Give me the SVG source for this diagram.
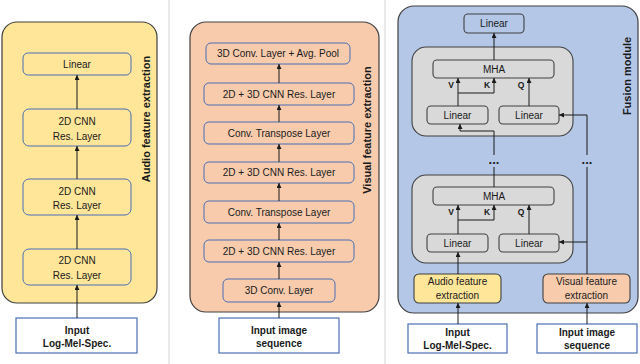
<svg xmlns="http://www.w3.org/2000/svg" width="640" height="364" viewBox="0 0 640 364">
<defs>
<marker id="ah" viewBox="0 0 6 6" refX="6" refY="3" markerWidth="5" markerHeight="5" markerUnits="userSpaceOnUse" orient="auto">
<path d="M0,0 L6,3 L0,6 z" fill="#1a1a1a"/>
</marker>
</defs>
<style>
text{font-family:"Liberation Sans",Arial,sans-serif;fill:#1a1a1a;text-anchor:middle}
.t{font-size:10px}
.b{font-size:10px;font-weight:bold}
.lbl{font-size:11px;font-weight:bold}
.vkq{font-size:8.5px;font-weight:bold}
.dots{font-size:13px;font-weight:bold}
.panel{stroke:#404040;stroke-width:1.2}
.inner{stroke:#4a6fb5;stroke-width:1}
.dark{stroke:#404040;stroke-width:1.1}
.inp{fill:#fff;stroke:#4a6fb5;stroke-width:1.2}
.yel{fill:#FFE699}
.org{fill:#F8CBAD}
.blu{fill:#B4C7E7}
.gry{fill:#D9D9D9}
.sep{stroke:#e2e2e2;stroke-width:1.5}
.c{fill:none;stroke:#1a1a1a;stroke-width:1}
.ca{fill:none;stroke:#1a1a1a;stroke-width:1;marker-end:url(#ah)}
</style>
<rect width="640" height="364" fill="#fff"/>
<line class="sep" x1="169" y1="0" x2="169" y2="364"/>
<line class="sep" x1="385" y1="0" x2="385" y2="364"/>

<!-- Panel 1: Audio -->
<g id="audio-panel">
<rect class="panel yel" x="2" y="22" width="155" height="281" rx="15"/>
<text class="lbl" transform="translate(149.5,119) rotate(-90)">Audio feature extraction</text>
</g>
<g id="a-linear"><rect class="inner yel" x="23" y="53" width="108" height="22" rx="5"/><text class="t" x="77" y="67.5">Linear</text></g>
<g id="a-res3"><rect class="inner yel" x="23" y="109" width="108" height="37" rx="6"/><text class="t" x="77" y="124.5">2D CNN</text><text class="t" x="77" y="139.5">Res. Layer</text></g>
<g id="a-res2"><rect class="inner yel" x="23" y="179" width="108" height="36" rx="6"/><text class="t" x="77" y="194.5">2D CNN</text><text class="t" x="77" y="208.5">Res. Layer</text></g>
<g id="a-res1"><rect class="inner yel" x="23" y="249" width="108" height="36" rx="6"/><text class="t" x="77" y="263.5">2D CNN</text><text class="t" x="77" y="278.5">Res. Layer</text></g>
<g id="a-input"><rect class="inp" x="16" y="318" width="121" height="35"/><text class="b" x="77" y="333.5">Input</text><text class="b" x="77" y="346.5">Log-Mel-Spec.</text></g>

<!-- Panel 2: Visual -->
<g id="visual-panel">
<rect class="panel org" x="190" y="22" width="189" height="290" rx="16"/>
<text class="lbl" transform="translate(370.5,130) rotate(-90)">Visual feature extraction</text>
</g>
<g id="v-pool"><rect class="inner org" x="206" y="43" width="144" height="21" rx="5"/><text class="t" x="278" y="57">3D Conv. Layer + Avg. Pool</text></g>
<g id="v-res3"><rect class="inner org" x="204" y="83" width="150" height="22" rx="5"/><text class="t" x="279" y="97.5">2D + 3D CNN Res. Layer</text></g>
<g id="v-tr2"><rect class="inner org" x="204" y="122" width="150" height="22" rx="5"/><text class="t" x="279" y="136.5">Conv. Transpose Layer</text></g>
<g id="v-res2"><rect class="inner org" x="204" y="162" width="150" height="21" rx="5"/><text class="t" x="279" y="176">2D + 3D CNN Res. Layer</text></g>
<g id="v-tr1"><rect class="inner org" x="204" y="201" width="150" height="22" rx="5"/><text class="t" x="279" y="215.5">Conv. Transpose Layer</text></g>
<g id="v-res1"><rect class="inner org" x="204" y="240" width="150" height="22" rx="5"/><text class="t" x="279" y="254.5">2D + 3D CNN Res. Layer</text></g>
<g id="v-conv"><rect class="inner org" x="223" y="279" width="112" height="23" rx="5"/><text class="t" x="279" y="294">3D Conv. Layer</text></g>
<g id="v-input"><rect class="inp" x="219" y="318" width="120" height="35"/><text class="b" x="279" y="333.5">Input image</text><text class="b" x="279" y="346.5">sequence</text></g>

<!-- Panel 3: Fusion -->
<g id="fusion-panel">
<rect class="panel blu" x="398" y="6" width="240" height="307" rx="16"/>
<text class="lbl" transform="translate(630.5,76) rotate(-90)">Fusion module</text>
</g>
<g id="f-linear-out"><rect class="dark blu" x="464" y="14" width="60" height="19" rx="4"/><text class="t" x="494" y="27">Linear</text></g>
<g id="f-block2">
<rect class="dark gry" x="412" y="47" width="161" height="89" rx="14"/>
</g>
<g id="f-mha2"><rect class="dark gry" x="433" y="60" width="121" height="18" rx="4"/><text class="t" x="494" y="72.5">MHA</text></g>
<g id="f-lin2a"><rect class="dark gry" x="427" y="106" width="61" height="18" rx="4"/><text class="t" x="457.5" y="118.5">Linear</text></g>
<g id="f-lin2b"><rect class="dark gry" x="499" y="106" width="60" height="18" rx="4"/><text class="t" x="529" y="118.5">Linear</text></g>
<g id="f-block1">
<rect class="dark gry" x="412" y="175" width="161" height="88" rx="14"/>
</g>
<g id="f-mha1"><rect class="dark gry" x="433" y="187" width="121" height="18" rx="4"/><text class="t" x="494" y="199.5">MHA</text></g>
<g id="f-lin1a"><rect class="dark gry" x="427" y="234" width="61" height="18" rx="4"/><text class="t" x="457.5" y="246.5">Linear</text></g>
<g id="f-lin1b"><rect class="dark gry" x="499" y="234" width="60" height="18" rx="4"/><text class="t" x="529" y="246.5">Linear</text></g>
<g id="f-audio"><rect class="dark yel" x="414" y="274" width="87" height="29" rx="5"/><text class="t" x="457.5" y="284.5">Audio feature</text><text class="t" x="457.5" y="299">extraction</text></g>
<g id="f-visual"><rect class="dark org" x="543" y="274" width="87" height="29" rx="5"/><text class="t" x="586.5" y="284.5">Visual feature</text><text class="t" x="586.5" y="299">extraction</text></g>
<g id="f-input-a"><rect class="inp" x="408" y="324" width="99" height="29"/><text class="b" x="457.5" y="335.5">Input</text><text class="b" x="457.5" y="349">Log-Mel-Spec.</text></g>
<g id="f-input-v"><rect class="inp" x="537" y="324" width="100" height="29"/><text class="b" x="587" y="335.5">Input image</text><text class="b" x="587" y="349">sequence</text></g>

<!-- labels V K Q -->
<g id="vkq-labels">
<text class="vkq" x="451" y="87.5">V</text><text class="vkq" x="487" y="87.5">K</text><text class="vkq" x="521" y="87.5">Q</text>
<text class="vkq" x="451" y="215">V</text><text class="vkq" x="487" y="215">K</text><text class="vkq" x="521" y="215">Q</text>
</g>

<!-- Connectors -->
<g id="connectors">
<line class="ca" x1="77" y1="109" x2="77" y2="75"/>
<line class="ca" x1="77" y1="179" x2="77" y2="146"/>
<line class="ca" x1="77" y1="249" x2="77" y2="215"/>
<line class="ca" x1="77" y1="318" x2="77" y2="285"/>

<line class="ca" x1="279" y1="318" x2="279" y2="302"/>
<line class="ca" x1="279" y1="279" x2="279" y2="262"/>
<line class="ca" x1="279" y1="240" x2="279" y2="223"/>
<line class="ca" x1="279" y1="201" x2="279" y2="183"/>
<line class="ca" x1="279" y1="162" x2="279" y2="144"/>
<line class="ca" x1="279" y1="122" x2="279" y2="105"/>
<line class="ca" x1="279" y1="83" x2="279" y2="64"/>

<line class="ca" x1="494" y1="60" x2="494" y2="33"/>
<line class="ca" x1="458" y1="106" x2="458" y2="78"/>
<polyline class="ca" points="458,93 494,93 494,78"/>
<line class="ca" x1="529" y1="106" x2="529" y2="78"/>
<polyline class="ca" points="494,155 494,131 460,131 460,124"/>
<polyline class="ca" points="587,155 587,115 559,115"/>

<line class="c" x1="494" y1="187" x2="494" y2="167"/>
<line class="c" x1="587" y1="274" x2="587" y2="167"/>
<line class="ca" x1="587" y1="242" x2="559" y2="242"/>
<line class="ca" x1="458" y1="234" x2="458" y2="205"/>
<polyline class="ca" points="458,220 494,220 494,205"/>
<line class="ca" x1="529" y1="234" x2="529" y2="205"/>
<line class="ca" x1="458" y1="274" x2="458" y2="252"/>
<line class="ca" x1="458" y1="324" x2="458" y2="303"/>
<line class="ca" x1="587" y1="324" x2="587" y2="303"/>
<text class="dots" x="494" y="164">...</text>
<text class="dots" x="587" y="164">...</text>
</g>
</svg>
